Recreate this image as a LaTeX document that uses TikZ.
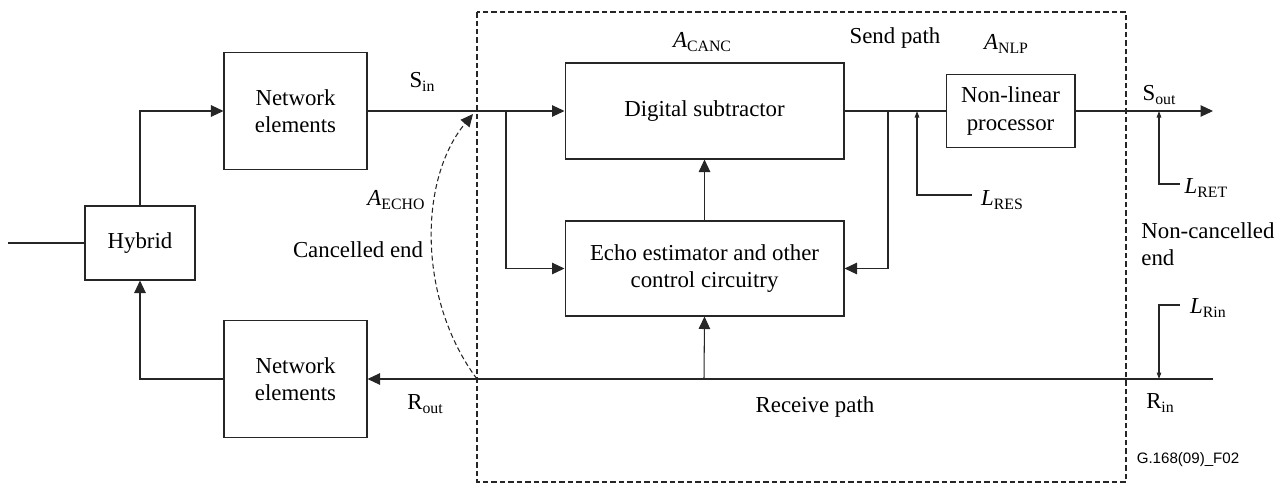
\documentclass[tikz,border=0pt]{standalone}
\usepackage{fontspec}
\setmainfont{Liberation Serif}
\newfontfamily\capfont{Liberation Sans}
\usetikzlibrary{arrows.meta,positioning}
\newcommand{\lsub}[1]{\raisebox{-0.35ex}{\fontsize{9}{9}\selectfont #1}}
\tikzset{
  blockbox/.style={draw=black!85,line width=0.6pt,align=center,inner sep=0pt},
  arr/.style={draw=black!85,line width=0.6pt,-{Triangle[length=0.25cm,width=0.23cm]}},
  smallarr/.style={draw=black!85,line width=0.6pt,-{Triangle[length=0.13cm,width=0.09cm]}},
  wire/.style={draw=black!85,line width=0.6pt},
  lbl/.style={inner sep=0pt,align=left}
}
\begin{document}
\begin{tikzpicture}[x=0.02cm,y=-0.02cm,font=\fontsize{13}{15.5}\selectfont]
  \useasboundingbox (0,0) rectangle (1287,487);
  % draw blocks
  \node[blockbox,minimum width=2.2cm,minimum height=1.48cm] (hyb) at (140,243) {Hybrid};
  \node[blockbox,minimum width=2.86cm,minimum height=2.34cm] (ne1) at (295.5,111) {Network\\elements};
  \node[blockbox,minimum width=2.86cm,minimum height=2.34cm] (ne2) at (295.5,379) {Network\\elements};
  \node[blockbox,minimum width=5.58cm,minimum height=1.92cm] (ds) at (704.5,111) {Digital subtractor};
  \node[blockbox,minimum width=5.58cm,minimum height=1.9cm] (echo) at (704.5,268.5) {Echo estimator and other\\control circuitry};
  \node[blockbox,minimum width=2.58cm,minimum height=1.46cm] (nlp) at (1010.5,111) {Non-linear\\processor};
  % echo canceller boundary
  \draw[black!85,line width=0.6pt,dash pattern=on 0.11cm off 0.06cm] (477,12) rectangle (1126,482);
  % free ends and taps
  \coordinate (lin)  at (8,243);
  \coordinate (sin)  at (477,111);
  \coordinate (rout) at (477,379);
  \coordinate (br1)  at (506,111);
  \coordinate (br2)  at (888,111);
  \coordinate (resp) at (917,111);
  \coordinate (lres) at (972,195);
  \coordinate (sout) at (1213,111);
  \coordinate (retp) at (1159,111);
  \coordinate (lret) at (1180,184);
  \coordinate (rin)  at (1213,379);
  \coordinate (rinp) at (1159,379);
  \coordinate (lrin) at (1180,305);
  \coordinate (rtap) at (704,379);
  % send path
  \draw[wire] (lin) -- (hyb.west);
  \draw[arr] (hyb.north) |- (ne1.west);
  \draw[arr] (ne1.east) -- (ds.west);
  \draw[arr] (br1) |- (echo.west);
  \draw[arr] (echo.north) -- (ds.south);
  \draw[wire] (ds.east) -- (nlp.west);
  \draw[arr] (br2) |- (echo.east);
  \draw[arr] (nlp.east) -- (sout);
  \draw[smallarr] (lres) -| (resp);
  \draw[smallarr] (lret) -| (retp);
  % receive path
  \draw[arr] (rin) -- (ne2.east);
  \draw[arr] (ne2.west) -| (hyb.south);
  \draw[arr] (rtap) -- (echo.south);
  \draw[smallarr] (lrin) -| (rinp);
  % echo path
  \draw[arr,dash pattern=on 0.1cm off 0.06cm] (rout) .. controls (418,300) and (418,180) .. (473,114);
  % labels
  \node[lbl] (sinl)  at (422,82)  {S\lsub{in}};
  \node[lbl] (routl) at (425,404) {R\lsub{out}};
  \node[lbl] (aecho) at (396,200) {\textit{A}\lsub{ECHO}};
  \node[lbl] (canc)  at (358,250) {Cancelled end};
  \node[lbl] (acanc) at (702,42)  {\textit{A}\lsub{CANC}};
  \node[lbl] (sendp) at (895,38)  {Send path};
  \node[lbl] (anlp)  at (1006,44) {\textit{A}\lsub{NLP}};
  \node[lbl] (lresl) at (1002,200) {\textit{L}\lsub{RES}};
  \node[lbl] (soutl) at (1159,95) {S\lsub{out}};
  \node[lbl] (lretl) at (1206,188) {\textit{L}\lsub{RET}};
  \node[lbl,anchor=west] (ncend) at (1141,244) {Non-cancelled\\end};
  \node[lbl] (lrinl) at (1208,308) {\textit{L}\lsub{Rin}};
  \node[lbl] (rinl)  at (1160,403) {R\lsub{in}};
  \node[lbl] (recvp) at (815,407) {Receive path};
  \node[lbl,font=\capfont\fontsize{8.6}{10}\selectfont] (fig) at (1188,460) {G.168(09)\_F02};
\end{tikzpicture}
\end{document}
